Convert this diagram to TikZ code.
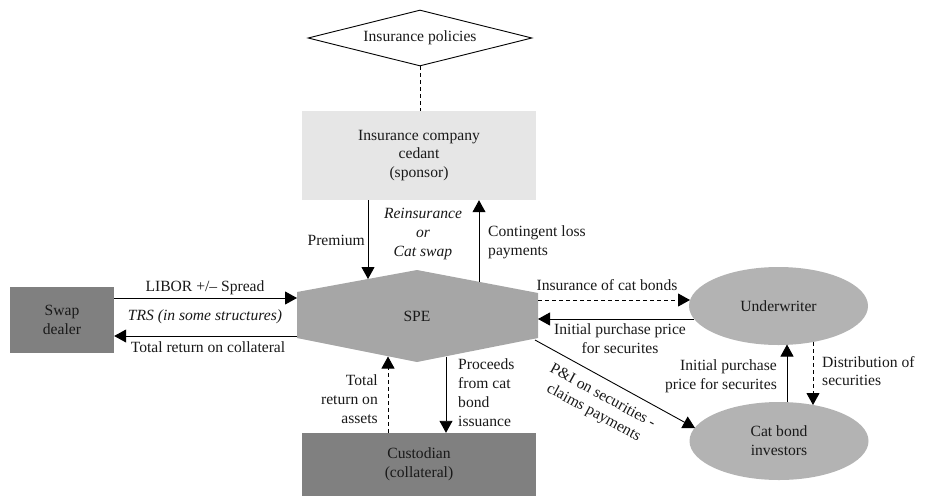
\documentclass[tikz,border=0pt]{standalone}
\usepackage{fontspec}
\setmainfont{Liberation Serif}
\usetikzlibrary{arrows.meta,shapes.geometric}
\definecolor{lightbox}{HTML}{E6E6E6}
\definecolor{darkbox}{HTML}{808080}
\definecolor{spegray}{HTML}{A6A6A6}
\definecolor{ellgray}{HTML}{B3B3B3}
\tikzset{
  every node/.style={font=\fontsize{15.6}{18.8}\selectfont, text=black!90},
  arr/.style={line width=0.9pt, -{Triangle[length=12pt,width=13pt]}},
  darr/.style={arr, dash pattern=on 4pt off 3pt},
  lbl/.style={inner sep=1pt},
  boxnode/.style={inner sep=0pt, align=center},
  ellnode/.style={ellipse, fill=ellgray, inner sep=0pt, minimum width=179pt, minimum height=78pt, align=center}
}
\begin{document}
\begin{tikzpicture}[x=1pt,y=-1pt]
\useasboundingbox (0,0) rectangle (925,496);

% nodes
\node[diamond, draw, line width=0.9pt, aspect=4, minimum width=224pt, minimum height=56pt, inner sep=0pt] (pol) at (420,38) {Insurance policies};
\node[boxnode, fill=lightbox, minimum width=234pt, minimum height=89pt] (ins) at (419,155.5) {Insurance company\\cedant\\(sponsor)};
\node[boxnode, fill=darkbox, minimum width=104pt, minimum height=66pt] (swap) at (62,320) {Swap\\dealer};
\node[boxnode, fill=darkbox, minimum width=234pt, minimum height=63pt] (cust) at (419,464.5) {Custodian\\(collateral)};
\node[ellnode] (uw) at (778.5,306) {Underwriter};
\node[ellnode] (inv) at (779,441) {Cat bond\\investors};

% SPE hexagon
\coordinate (hL1) at (297,292);
\coordinate (hT) at (417,270);
\coordinate (hR1) at (538,293);
\coordinate (hR2) at (538,338);
\coordinate (hB) at (417,362);
\coordinate (hL2) at (297,338);
\fill[spegray] (hL1) -- (hT) -- (hR1) -- (hR2) -- (hB) -- (hL2) -- cycle;
\node (spe) at (417,316) {SPE};

% boundary points on SPE
\coordinate (speLa) at (297,298);
\coordinate (speLb) at (297,336);
\coordinate (speTa) at (368,279);
\coordinate (speTb) at (479,281.8);
\coordinate (speRa) at (538,300);
\coordinate (speRb) at (538,319);
\coordinate (speRc) at (535,340);
\coordinate (speBa) at (388,356.5);
\coordinate (speBb) at (446,356.5);
% boundary points on ellipses
\coordinate (uwa) at (690,300);
\coordinate (uwb) at (694,319);
\coordinate (uwc) at (787,344.5);
\coordinate (uwd) at (813,342);
\coordinate (inva) at (695,428);
\coordinate (invb) at (787,402);
\coordinate (invc) at (813,405);

% connectors
\draw[line width=0.9pt, dash pattern=on 4pt off 3pt] (pol.south) -- (pol.south |- ins.north);
\draw[arr] (speLa -| swap.east) -- (speLa);
\draw[arr] (speLb) -- (speLb -| swap.east);
\draw[arr] (speTa |- ins.south) -- (speTa);
\draw[arr] (speTb) -- (speTb |- ins.south);
\draw[darr] (speRa) -- (uwa);
\draw[arr] (uwb) -- (speRb);
\draw[arr] (speRc) -- (inva);
\draw[arr] (invb) -- (uwc);
\draw[darr] (uwd) -- (invc);
\draw[darr] (speBa |- cust.north) -- (speBa);
\draw[arr] (speBb) -- (speBb |- cust.north);

% labels
\node[lbl] (l1) at (205,288) {LIBOR +/-- Spread};
\node[lbl] (l2) at (205,317) {\itshape TRS (in some structures)};
\node[lbl] (l3) at (208,347) {Total return on collateral};
\node[lbl, anchor=east] (l4) at (366,240) {Premium};
\node[lbl, align=center] (l5) at (423,234) {\itshape Reinsurance\\\itshape or\\\itshape Cat swap};
\node[lbl, anchor=west, align=left] (l6) at (487,242) {Contingent loss\\payments};
\node[lbl] (l7) at (607,285) {Insurance of cat bonds};
\node[lbl, align=center] (l8) at (620,338.5) {Initial purchase price\\for securites};
\node[lbl, anchor=east, align=right] (l9) at (778,376) {Initial purchase\\price for securites};
\node[lbl, anchor=west, align=left] (l10) at (821,371) {Distribution of\\securities};
\node[lbl, anchor=east, align=right] (l11) at (379,399) {Total\\return on\\assets};
\node[lbl, anchor=west, align=left] (l12) at (457,392.5) {Proceeds\\from cat\\bond\\issuance};
\node[lbl, align=center, rotate=-28.5] (l13) at (598,405) {P\&I on securities -\\claims payments};
\end{tikzpicture}
\end{document}
